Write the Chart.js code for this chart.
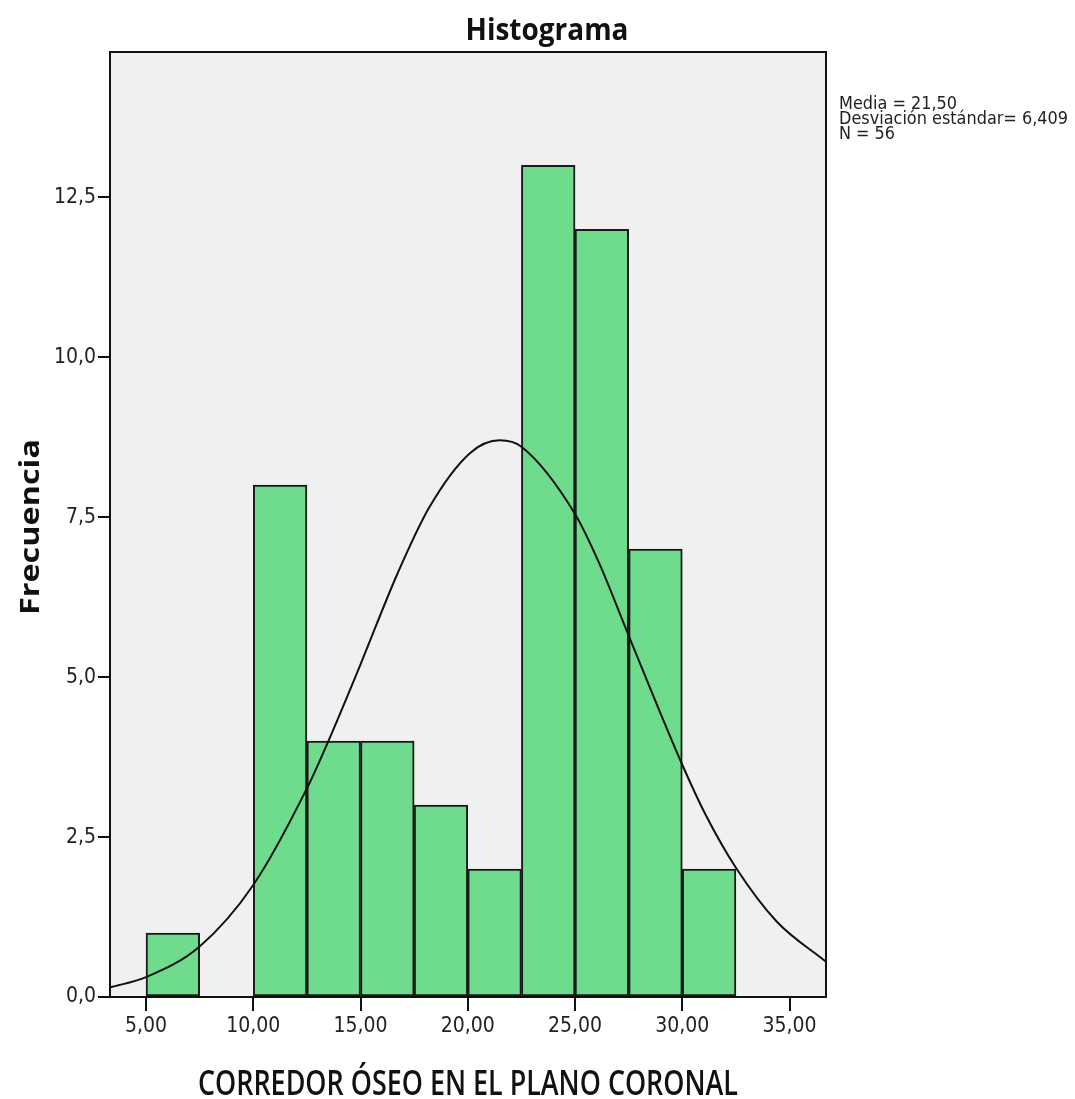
<!DOCTYPE html>
<html>
<head>
<meta charset="utf-8">
<script src="https://cdn.jsdelivr.net/npm/chart.js@4.4.1/dist/chart.umd.min.js"></script>
<style>
html,body{margin:0;padding:0;background:#fff;}
#wrap{width:1075px;height:1099px;position:relative;}
</style>
</head>
<body>
<div id="wrap"><canvas id="c" width="1075" height="1099"></canvas></div>
<script>
// Histogram bins (centers) and frequencies
const binCenters = [6.25, 8.75, 11.25, 13.75, 16.25, 18.75, 21.25, 23.75, 26.25, 28.75, 31.25];
const frequencies = [1, 0, 8, 4, 4, 3, 2, 13, 12, 7, 2];
// Normal curve points
const curveX = [3.32, 5, 7.5, 10, 12.5, 13.5, 15, 16.7, 18.2, 20.1, 21.5, 22.5, 25, 26.1, 27.5, 30, 31.1, 32.5, 34.4, 36.7];
const curveY = [0.15, 0.31, 0.79, 1.75, 3.26, 4.00, 5.20, 6.60, 7.65, 8.50, 8.70, 8.60, 7.55, 6.80, 5.65, 3.63, 2.84, 2.02, 1.18, 0.55];
const xTicks = [5, 10, 15, 20, 25, 30, 35];
const yTicks = [0, 2.5, 5, 7.5, 10, 12.5];
const titleText = 'Histograma';
const xTitle = 'CORREDOR ÓSEO EN EL PLANO CORONAL';
const yTitle = 'Frecuencia';
const statsLines = ['Media = 21,50', 'Desviación estándar= 6,409', 'N = 56'];

function fmtX(v){ return v.toFixed(2).replace('.', ','); }
function fmtY(v){ return v.toFixed(1).replace('.', ','); }

function fitText(ctx, text, x, y, targetW, align){
  const w = ctx.measureText(text).width;
  const s = targetW / w;
  ctx.save();
  ctx.translate(x, y);
  ctx.scale(s, 1);
  ctx.textAlign = align || 'center';
  ctx.fillText(text, 0, 0);
  ctx.restore();
}

const deco = {
  id: 'deco',
  beforeDraw(chart){
    const {ctx, chartArea:a} = chart;
    ctx.save();
    ctx.fillStyle = '#f0f0f0';
    ctx.fillRect(a.left, a.top, a.right - a.left, a.bottom - a.top);
    ctx.restore();
  },
  afterDraw(chart){
    const {ctx, chartArea:a} = chart;
    ctx.save();
    ctx.strokeStyle = '#111';
    ctx.lineWidth = 2;
    ctx.strokeRect(a.left, a.top, a.right - a.left, a.bottom - a.top);
    ctx.fillStyle = '#111';
    ctx.textBaseline = 'alphabetic';
    // title
    ctx.font = 'bold 30px "Open Sans"';
    fitText(ctx, titleText, 547, 40, 163, 'center');
    // x title
    ctx.font = '600 35px "Open Sans"';
    fitText(ctx, xTitle, 468, 1095, 540, 'center');
    // y title
    ctx.save();
    ctx.translate(39, 527);
    ctx.rotate(-Math.PI/2);
    ctx.font = 'bold 26px "Open Sans"';
    fitText(ctx, yTitle, 0, 0, 176, 'center');
    ctx.restore();
    // stats
    ctx.font = '18px "DejaVu Sans Condensed"';
    ctx.fillStyle = '#222';
    const widths = [118, 229, 56];
    statsLines.forEach((t, i) => {
      fitText(ctx, t, 839, 109 + i * 15, widths[i], 'left');
    });
    ctx.restore();
  }
};

new Chart(document.getElementById('c'), {
  type: 'bar',
  data: {
    datasets: [
      {
        type: 'line',
        data: curveX.map((x, i) => ({x: x, y: curveY[i]})),
        borderColor: '#111',
        borderWidth: 2,
        pointRadius: 0,
        cubicInterpolationMode: 'monotone',
        fill: false,
        order: 0
      },
      {
        type: 'bar',
        data: binCenters.map((x, i) => ({x: x, y: frequencies[i]})),
        backgroundColor: '#6edc8c',
        borderColor: '#1a1a1a',
        borderWidth: 2,
        borderSkipped: false,
        barPercentage: 1,
        categoryPercentage: 1,
        order: 1
      }
    ]
  },
  options: {
    responsive: false,
    animation: false,
    devicePixelRatio: 1,
    layout: {padding: {left: 0, top: 52, right: 249, bottom: 0}},
    plugins: {legend: {display: false}, tooltip: {enabled: false}, title: {display: false}},
    scales: {
      x: {
        type: 'linear',
        min: 3.32,
        max: 36.7,
        offset: false,
        afterBuildTicks: s => { s.ticks = xTicks.map(v => ({value: v})); },
        afterFit: s => { s.height = 102; },
        ticks: {
          callback: v => fmtX(v),
          color: '#222',
          font: {family: '"DejaVu Sans Condensed"', size: 21},
          padding: 3,
          maxRotation: 0,
          autoSkip: false
        },
        grid: {offset: false, drawOnChartArea: false, drawTicks: true, tickLength: 14, color: '#111', lineWidth: 2},
        border: {display: true, color: '#111', width: 2}
      },
      y: {
        min: 0,
        max: 14.77,
        afterBuildTicks: s => { s.ticks = yTicks.map(v => ({value: v})); },
        afterFit: s => { s.width = 110; },
        ticks: {
          callback: v => fmtY(v),
          color: '#222',
          font: {family: '"DejaVu Sans Condensed"', size: 21},
          padding: 2,
          autoSkip: false
        },
        grid: {offset: false, drawOnChartArea: false, drawTicks: true, tickLength: 12, color: '#111', lineWidth: 2},
        border: {display: true, color: '#111', width: 2}
      }
    }
  },
  plugins: [deco]
});
</script>
</body>
</html>
